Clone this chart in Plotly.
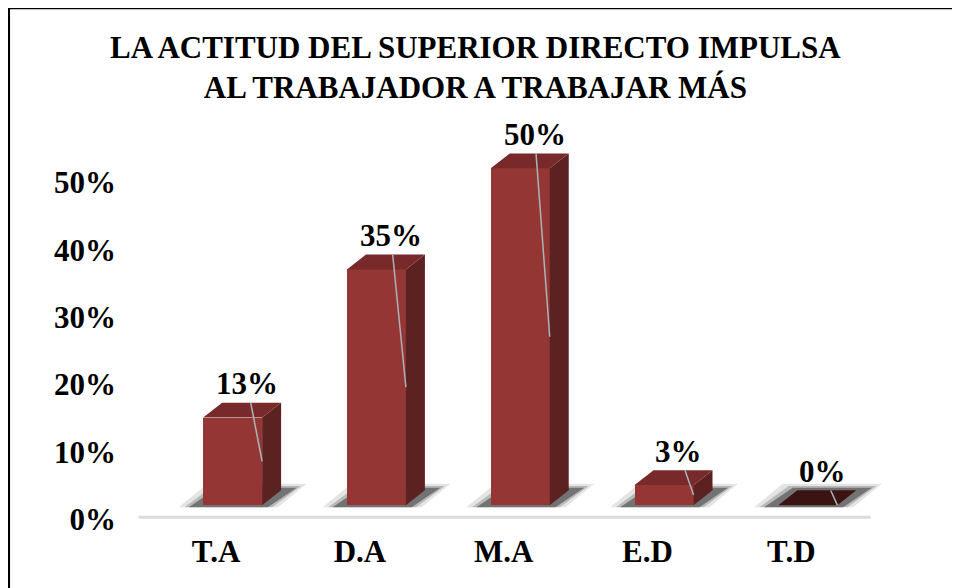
import plotly.graph_objects as go

# ---- data ----
categories = ["T.A", "D.A", "M.A", "E.D", "T.D"]
values = [13, 35, 50, 3, 0]          # percent
label_texts = ["13%", "35%", "50%", "3%", "0%"]
y_tick_vals = [0, 10, 20, 30, 40, 50]
y_tick_text = ["0%", "10%", "20%", "30%", "40%", "50%"]
title_text = "LA ACTITUD DEL SUPERIOR DIRECTO IMPULSA<br>AL TRABAJADOR A TRABAJAR MÁS"

# ---- style / geometry ----
FONT = "Liberation Serif"
FRONT = "#943634"
SIDE = "#5c2221"
TOP = "#772a29"
TOP_ZERO = "#3a1313"
LEADER = "#aab4b8"
W = 0.41       # front face width (x units)
OFF = -0.09    # bar offset from category position
DX = 0.132     # depth offset x (x units)
DY = 2.2       # depth offset y (y units)

FIG_W, FIG_H = 952, 580
L, T = 129, 93
PW, PH = 755, 421
R = FIG_W - L - PW
B = FIG_H - T - PH
X_RANGE = [-0.55, 4.70]
Y_RANGE = [-2.5, 60]

idx = list(range(len(categories)))

fig = go.Figure()

# front faces (actual bars)
fig.add_trace(go.Bar(
    x=idx, y=values, width=W, offset=OFF,
    marker=dict(color=FRONT, line=dict(width=0)),
    hoverinfo="skip", showlegend=False,
))

# side and top faces built from the values
for i, v in zip(idx, values):
    xl = i + OFF
    xr = i + OFF + W
    if v > 0:
        fig.add_trace(go.Scatter(
            x=[xr, xr, xr + DX, xr + DX, xr],
            y=[0, v, v + DY, DY, 0],
            fill="toself", fillcolor=SIDE, mode="lines",
            line=dict(width=0, color=SIDE), hoverinfo="skip", showlegend=False,
        ))
    fig.add_trace(go.Scatter(
        x=[xl, xr, xr + DX, xl + DX, xl],
        y=[v, v, v + DY, v + DY, v],
        fill="toself", fillcolor=TOP if v > 0 else TOP_ZERO, mode="lines",
        line=dict(width=0, color=TOP), hoverinfo="skip", showlegend=False,
    ))

shapes = []
# soft floor shadows
for i in idx:
    for grow, alpha in [(0.07, 0.12), (0.03, 0.22), (0.0, 0.45)]:
        x0 = i - 0.19 - grow
        x1 = i + 0.36 + grow
        top = 2.6 + grow * 8
        path = (f"M {x0} {-0.3} L {x1} {-0.3} L {x1 + 0.2} {top} "
                f"L {x0 + 0.2} {top} Z")
        shapes.append(dict(type="path", path=path, xref="x", yref="y",
                           fillcolor=f"rgba(30,30,30,{alpha})", line=dict(width=0),
                           layer="below"))
# floor line
shapes.append(dict(type="line", xref="x", yref="y", x0=-0.54, x1=4.55, y0=-1.8, y1=-1.8,
                   line=dict(color="#dcdcdc", width=3), layer="below"))

# outer frame (top and left edges)
def px_x(px):
    return (px - L) / PW
def px_y(py):
    return (FIG_H - B - py) / PH
shapes.append(dict(type="line", xref="paper", yref="paper",
                   x0=px_x(0), x1=px_x(FIG_W), y0=px_y(0.3), y1=px_y(0.3),
                   line=dict(color="black", width=2)))
shapes.append(dict(type="line", xref="paper", yref="paper",
                   x0=px_x(0.8), x1=px_x(0.8), y0=px_y(0), y1=px_y(FIG_H),
                   line=dict(color="black", width=2.5)))

# data labels with leader lines
annotations = []
for i, v, t in zip(idx, values, label_texts):
    annotations.append(dict(
        x=i + OFF + W, y=v / 2, xref="x", yref="y",
        ax=i + OFF + W / 2 + 0.1, ay=v + 5.0, axref="x", ayref="y",
        text=f"<b>{t}</b>", showarrow=True, arrowhead=0, arrowwidth=1.5,
        arrowcolor=LEADER, standoff=0, startstandoff=0,
        font=dict(family=FONT, size=31, color="black"),
    ))

# title (as annotation, serif bold)
annotations.append(dict(
    text=f"<b>{title_text}</b>", xref="paper", yref="paper",
    x=px_x(467), y=px_y(59.5), xanchor="center", yanchor="middle",
    showarrow=False, align="center",
    font=dict(family=FONT, size=31, color="black"),
))

fig.update_layout(
    width=FIG_W, height=FIG_H,
    margin=dict(l=L, r=R, t=T, b=B),
    paper_bgcolor="white", plot_bgcolor="white",
    showlegend=False,
    xaxis=dict(range=X_RANGE, tickvals=idx, ticktext=[f"<b>{c}</b>" for c in categories],
               showgrid=False, zeroline=False, showline=False, ticks="",
               ticklabelstandoff=8,
               tickfont=dict(family=FONT, size=31, color="black")),
    yaxis=dict(range=Y_RANGE, tickvals=y_tick_vals, ticktext=[f"<b>{t}</b>" for t in y_tick_text],
               showgrid=False, zeroline=False, showline=False, ticks="",
               ticklabelstandoff=20, ticklabelshift=14,
               tickfont=dict(family=FONT, size=31, color="black")),
    shapes=shapes,
    annotations=annotations,
    bargap=0,
)

fig.write_html("out.html")
